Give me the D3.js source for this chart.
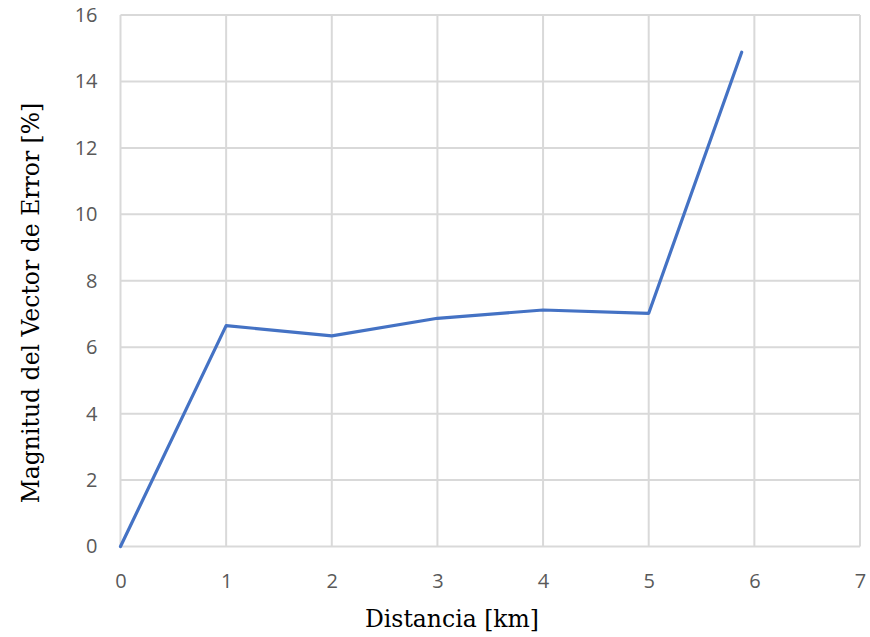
<!DOCTYPE html>
<html><head><meta charset="utf-8">
<script src="https://cdn.jsdelivr.net/npm/d3@7"></script>
<style>body{margin:0;background:#fff}</style>
</head><body>
<svg id="c" width="870" height="637"></svg>
<script>
const xValues = [0, 1, 2, 3, 4, 5, 5.88];
const yValues = [0, 6.65, 6.34, 6.87, 7.12, 7.02, 14.88];
const xTicks = [0, 1, 2, 3, 4, 5, 6, 7];
const yTicks = [0, 2, 4, 6, 8, 10, 12, 14, 16];
const xTitle = "Distancia [km]";
const yTitle = "Magnitud del Vector de Error [%]";

const svg = d3.select("#c");
const x = d3.scaleLinear().domain([0, 7]).range([120.5, 860]);
const y = d3.scaleLinear().domain([0, 16]).range([546.5, 15]);

const grid = svg.append("g").attr("stroke", "#d9d9d9").attr("stroke-width", 2);
grid.selectAll(".gx").data(xTicks).join("line")
  .attr("x1", d => x(d)).attr("x2", d => x(d)).attr("y1", y(0)).attr("y2", y(16));
grid.selectAll(".gy").data(yTicks).join("line")
  .attr("x1", x(0)).attr("x2", x(7)).attr("y1", d => y(d)).attr("y2", d => y(d));

const xAxis = d3.axisBottom(x).tickValues(xTicks).tickFormat(d3.format("d")).tickSize(0).tickPadding(27);
const gx = svg.append("g").attr("transform", `translate(0,${y(0)})`).call(xAxis);
gx.select(".domain").remove();
gx.selectAll("text").attr("font-family", "Open Sans, sans-serif").attr("font-size", 20).attr("fill", "#595959");

const yAxis = d3.axisLeft(y).tickValues(yTicks).tickFormat(d3.format("d")).tickSize(0).tickPadding(23);
const gy = svg.append("g").attr("transform", `translate(${x(0)},0)`).call(yAxis);
gy.select(".domain").remove();
gy.selectAll("text").attr("font-family", "Open Sans, sans-serif").attr("font-size", 20).attr("fill", "#595959");

const line = d3.line().x((d, i) => x(xValues[i])).y(d => y(d));
svg.append("path").datum(yValues).attr("d", line)
  .attr("fill", "none").attr("stroke", "#4472c4").attr("stroke-width", 3.2)
  .attr("stroke-linejoin", "round").attr("stroke-linecap", "round");

svg.append("text").attr("x", 452).attr("y", 627).attr("text-anchor", "middle")
  .attr("font-family", "DejaVu Serif, serif").attr("font-size", 23.5).attr("fill", "#000")
  .text(xTitle);
svg.append("text").attr("transform", "translate(39,303) rotate(-90)").attr("text-anchor", "middle")
  .attr("font-family", "DejaVu Serif, serif").attr("font-size", 23.5).attr("fill", "#000")
  .text(yTitle);
</script>
</body></html>
